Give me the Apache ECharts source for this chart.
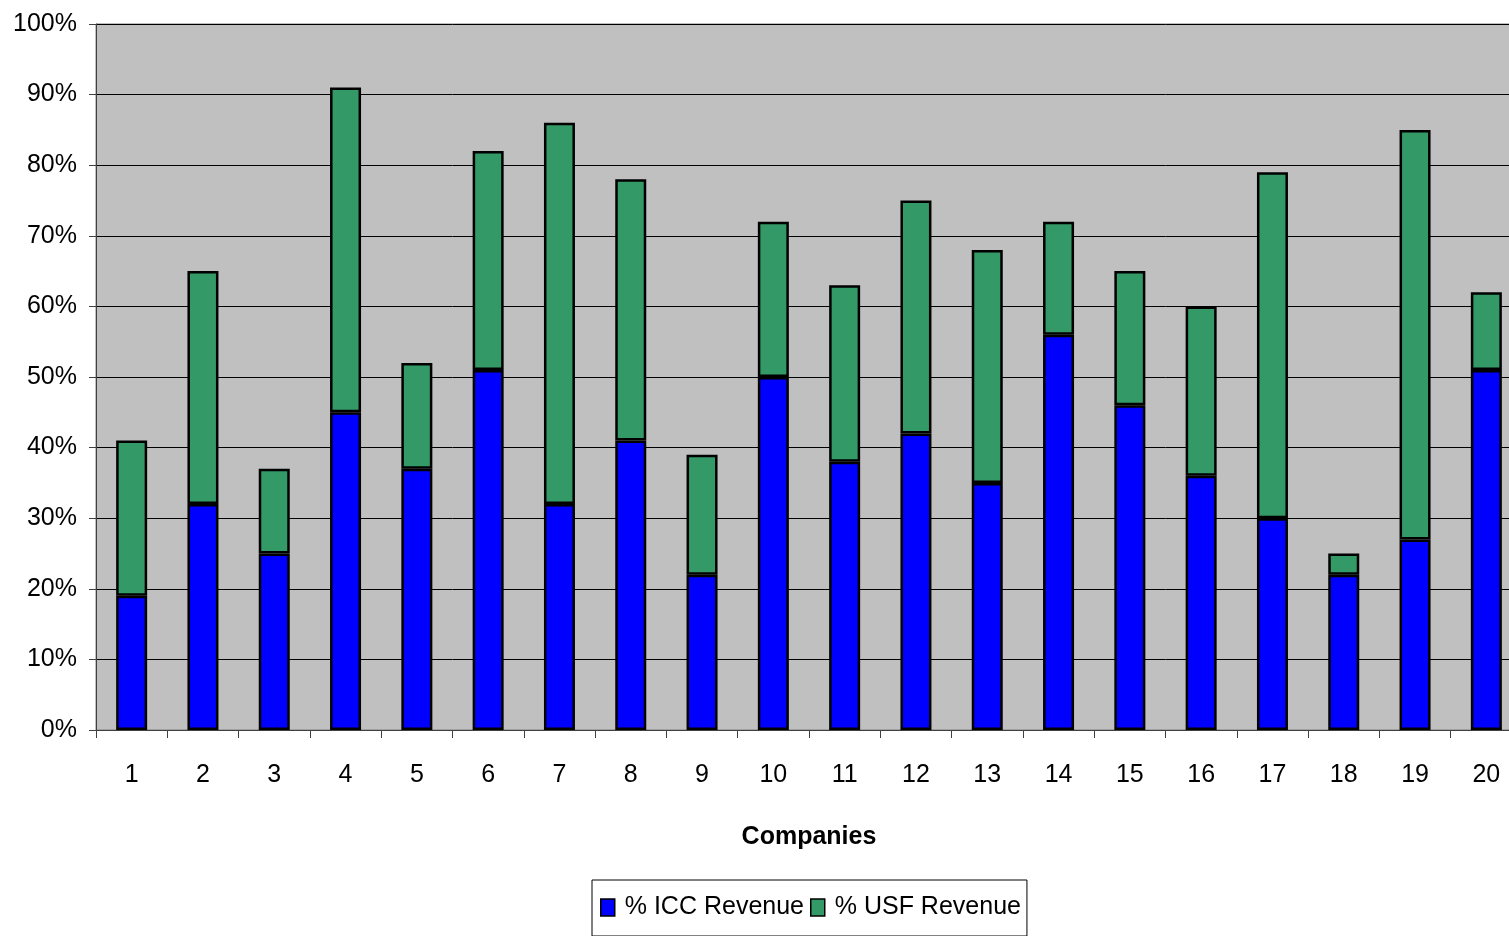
<!DOCTYPE html>
<html>
<head>
<meta charset="utf-8">
<title>ICC and USF Revenue by Company</title>
<script src="https://cdn.jsdelivr.net/npm/echarts@6/dist/echarts.min.js"></script>
<style>
  html, body { margin: 0; padding: 0; background: #fff; overflow: hidden; }
  #chart { width: 1522px; height: 936px; }
</style>
</head>
<body>
<div id="chart"></div>
<script>
const companies = ['1', '2', '3', '4', '5', '6', '7', '8', '9', '10',
  '11', '12', '13', '14', '15', '16', '17', '18', '19', '20']
const iccRevenue = [19, 32, 25, 45, 37, 51, 32, 41, 22, 50, 38, 42, 35, 56, 46, 36, 30, 22, 27, 51]
const usfRevenue = [22, 33, 12, 46, 15, 31, 54, 37, 17, 22, 25, 33, 33, 16, 19, 24, 49, 3, 58, 11]

const font = 'Liberation Sans, Arial, sans-serif'

// the plot runs a little past the right edge of the window, as in the original
const chart = echarts.init(document.getElementById('chart'))

const option = {
  animation: false,
  backgroundColor: '#ffffff',
  textStyle: { fontFamily: font, color: '#000' },
  grid: {
    left: 96,
    top: 24,
    right: 0,
    bottom: 206,
    show: true,
    backgroundColor: '#c0c0c0',
    borderColor: '#808080',
    borderWidth: 1,
  },
  legend: {
    data: ['% ICC Revenue', '% USF Revenue'],
    left: 592,
    top: 880,
    orient: 'horizontal',
    icon: 'rect',
    borderColor: '#000',
    borderWidth: 1,
    padding: [15, 6, 16, 8],
    itemWidth: 14,
    itemHeight: 17,
    itemGap: 6,
    itemStyle: { borderColor: '#000', borderWidth: 1.5 },
    textStyle: { fontFamily: font, fontSize: 25, color: '#000', padding: [0, 0, 0, 5] },
  },
  xAxis: {
    type: 'category',
    data: companies,
    name: 'Companies',
    nameLocation: 'middle',
    nameGap: 95,
    nameTextStyle: { fontFamily: font, fontSize: 25, fontWeight: 'bold', color: '#000' },
    axisLine: { show: true, lineStyle: { color: '#404040', width: 1 } },
    axisTick: { show: true, length: 8, lineStyle: { color: '#404040' } },
    axisLabel: { fontFamily: font, fontSize: 25, color: '#000', margin: 33 },
    splitLine: { show: false },
  },
  yAxis: {
    type: 'value',
    min: 0,
    max: 100,
    interval: 10,
    axisLine: { show: true, lineStyle: { color: '#404040', width: 1 } },
    axisTick: { show: true, length: 7, lineStyle: { color: '#404040' } },
    axisLabel: { fontFamily: font, fontSize: 25, color: '#000', margin: 19, formatter: '{value}%' },
    splitLine: { show: true, lineStyle: { color: '#000', width: 1 } },
  },
  series: [
    {
      name: '% ICC Revenue',
      type: 'bar',
      stack: 'revenue',
      barWidth: 31,
      data: iccRevenue,
      itemStyle: { color: '#0000ff', borderColor: '#000', borderWidth: 2.5 },
    },
    {
      name: '% USF Revenue',
      type: 'bar',
      stack: 'revenue',
      barWidth: 31,
      data: usfRevenue,
      itemStyle: { color: '#339966', borderColor: '#000', borderWidth: 2.5 },
    },
  ],
}

chart.setOption(option)
</script>
</body>
</html>
